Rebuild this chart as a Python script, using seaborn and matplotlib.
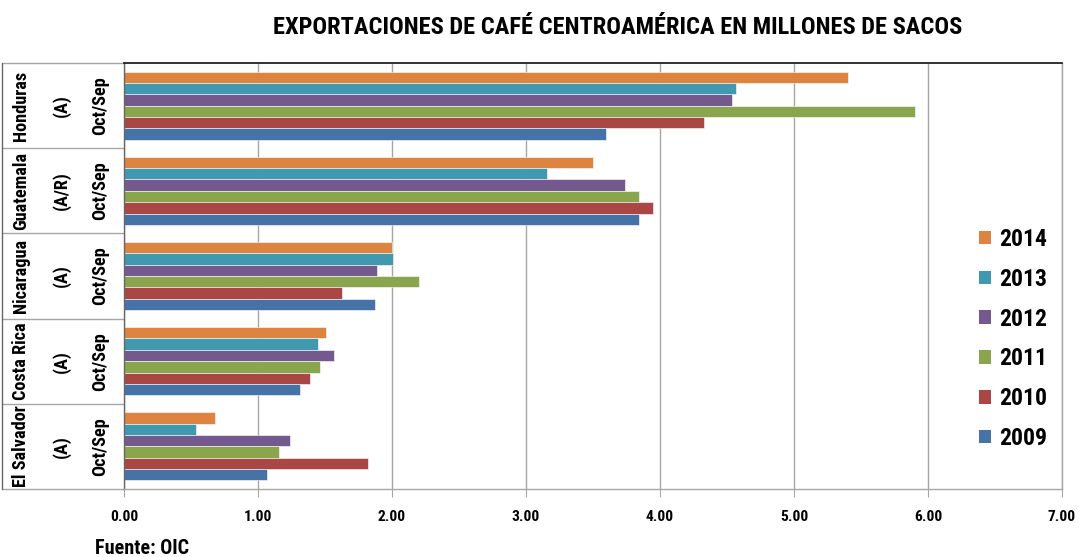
import pandas as pd
import matplotlib.pyplot as plt
import matplotlib.transforms as mtransforms
from matplotlib.lines import Line2D
from matplotlib.patches import Patch
import seaborn as sns

# --- data (millions of bags) ---
countries = ["Honduras", "Guatemala", "Nicaragua", "Costa Rica", "El Salvador"]
quality = ["(A)", "(A/R)", "(A)", "(A)", "(A)"]
period = "Oct/Sep"
years = ["2014", "2013", "2012", "2011", "2010", "2009"]

v2014 = [5.40, 3.50, 2.00, 1.51, 0.68]
v2013 = [4.57, 3.16, 2.01, 1.45, 0.54]
v2012 = [4.54, 3.74, 1.89, 1.57, 1.24]
v2011 = [5.90, 3.84, 2.20, 1.46, 1.16]
v2010 = [4.33, 3.95, 1.63, 1.39, 1.82]
v2009 = [3.60, 3.84, 1.87, 1.31, 1.07]

colors = ["#DD8440", "#4199B0", "#73598D", "#89A54E", "#AA4643", "#4572A7"]
xticks = [0, 1, 2, 3, 4, 5, 6, 7]
title = "EXPORTACIONES DE CAFÉ CENTROAMÉRICA EN MILLONES DE SACOS"
source = "Fuente: OIC"

series = dict(zip(years, [v2014, v2013, v2012, v2011, v2010, v2009]))
rows = []
for y, vals in series.items():
    for c, v in zip(countries, vals):
        rows.append({"country": c, "year": y, "value": v})
df = pd.DataFrame(rows)

sns.set_style("white")
plt.rcParams["font.family"] = ["Roboto Condensed", "Noto Sans", "DejaVu Sans"]
plt.rcParams["font.weight"] = "bold"
plt.rcParams["text.color"] = "black"
plt.rcParams["xtick.labelcolor"] = "black"

W, H = 1079, 557
fig = plt.figure(figsize=(W / 100, H / 100), dpi=100)
renderer = fig.canvas.get_renderer()


def size_for(s, target_px):
    # font size giving the text a given width in pixels
    t = fig.text(0, 0, s, fontsize=10, fontweight="bold")
    w = t.get_window_extent(renderer).width
    t.remove()
    return 10 * target_px / w


ax = fig.add_axes([124 / W, 1 - 489 / H, 938 / W, 426 / H])

sns.barplot(data=df, y="country", x="value", hue="year", order=countries,
            hue_order=years, palette=colors, orient="h", width=0.8,
            edgecolor="white", linewidth=0.4, saturation=1, legend=False, ax=ax)

tick_fs = size_for("0.00", 28)
ax.set_xlim(0, 7)
ax.set_ylim(4.5, -0.5)
ax.set_xticks(xticks)
ax.set_xticklabels([f"{t:.2f}" for t in xticks], fontsize=tick_fs, fontweight="bold",
                   color="black")
ax.tick_params(axis="x", length=6, color="#a6a6a6", pad=9, direction="out", bottom=True)
ax.set_yticks([])
ax.set_xlabel("")
ax.set_ylabel("")
ax.set_axisbelow(True)
ax.xaxis.grid(True, color="#a6a6a6", linewidth=1)

ax.spines["top"].set_color("#222222")
ax.spines["top"].set_linewidth(1.3)
for s in ["left", "right", "bottom"]:
    ax.spines[s].set_color("#a6a6a6")
    ax.spines[s].set_linewidth(1)
ax.spines["left"].set_color("#666666")

# multi-level category labels on the left
lab_fs = size_for("El Salvador", 82)
trans = mtransforms.blended_transform_factory(fig.transFigure, ax.transData)
for i, c in enumerate(countries):
    ax.text(21 / W, i, c, transform=trans, rotation=90, ha="center",
            va="center", fontsize=lab_fs, fontweight="bold")
    ax.text(61 / W, i, quality[i], transform=trans, rotation=90, ha="center",
            va="center", fontsize=lab_fs, fontweight="bold")
    ax.text(100 / W, i, period, transform=trans, rotation=90, ha="center",
            va="center", fontsize=lab_fs, fontweight="bold")
for b in [-0.5, 0.5, 1.5, 2.5, 3.5, 4.5]:
    ax.add_line(Line2D([2 / W, 124 / W], [b, b], transform=trans,
                       color="#a6a6a6", linewidth=1, clip_on=False))
ax.add_line(Line2D([2 / W, 2 / W], [-0.5, 4.5], transform=trans,
                   color="#666666", linewidth=1, clip_on=False))

# legend: entries about 40 px apart, centred at y = 339
leg_fs = size_for("2014", 48)
fs_px = leg_fs * 100 / 72
handles = [Patch(facecolor=col, edgecolor="none", label=y) for y, col in zip(years, colors)]
spacing = 0.9
for _ in range(3):
    leg = ax.legend(handles=handles, loc="center left", bbox_to_anchor=(979 / W, 1 - 339 / H),
                    bbox_transform=fig.transFigure, frameon=False,
                    prop={"weight": "bold", "size": leg_fs},
                    handlelength=12 / fs_px, handleheight=12 / fs_px,
                    handletextpad=8 / fs_px, labelspacing=spacing,
                    borderpad=0, borderaxespad=0, labelcolor="black")
    fig.canvas.draw()
    ys = [t.get_window_extent(renderer).y0 for t in leg.get_texts()]
    step = (ys[0] - ys[-1]) / (len(ys) - 1)
    spacing += (39.8 - step) / fs_px

fig.text(618 / W, 1 - 27 / H, title, ha="center", va="center",
         fontsize=size_for(title, 687), fontweight="bold")
fig.text(95 / W, 1 - 548 / H, source, ha="left", va="center",
         fontsize=size_for(source, 94), fontweight="bold")

fig.savefig("out.png", dpi=100)
